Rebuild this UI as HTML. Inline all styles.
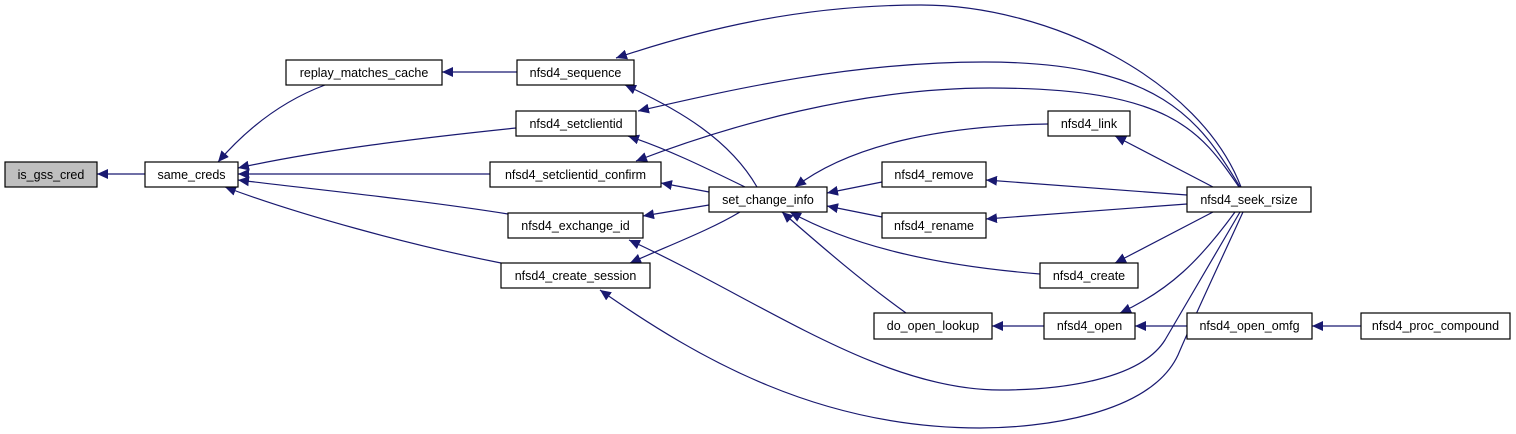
<!DOCTYPE html>
<html><head><meta charset="utf-8"><style>
html,body{margin:0;padding:0;background:#fff;}
svg{display:block;}
text{font-family:"Liberation Sans",sans-serif;font-size:12.5px;fill:#000;}
.e{fill:none;stroke:#191970;stroke-width:1.2;marker-end:url(#a);}
.n{fill:#fff;stroke:#000;stroke-width:1.2;}
</style></head><body>
<svg width="1516" height="434" viewBox="0 0 1516 434" xmlns="http://www.w3.org/2000/svg">
<defs><marker id="a" markerUnits="userSpaceOnUse" markerWidth="12" markerHeight="10" refX="11" refY="5" orient="auto"><path d="M0,0 L11,5 L0,10 Z" fill="#191970"/></marker></defs>
<path class="e" d="M145,174 L97,174"/>
<path class="e" d="M325,85 C285,100 250,125 218,162"/>
<path class="e" d="M516,128 C420,138 320,150 238,168"/>
<path class="e" d="M490,174 L238,174"/>
<path class="e" d="M508,214 C420,200 320,190 238,180"/>
<path class="e" d="M501,263 C410,245 300,215 225,187"/>
<path class="e" d="M517,72 L442,72"/>
<path class="e" d="M757,187 C730,140 680,110 625,85"/>
<path class="e" d="M745,187 C710,170 670,150 628,136"/>
<path class="e" d="M709,192 L661,183"/>
<path class="e" d="M709,205 L643,216"/>
<path class="e" d="M740,212 C710,230 670,245 630,263"/>
<path class="e" d="M1048,124 C940,126 850,145 795,187"/>
<path class="e" d="M882,182 L827,193"/>
<path class="e" d="M882,217 L827,206"/>
<path class="e" d="M1040,274 C930,265 850,245 790,212"/>
<path class="e" d="M906,313 C860,280 820,245 782,212"/>
<path class="e" d="M1044,326 L992,326"/>
<path class="e" d="M1187,326 L1135,326"/>
<path class="e" d="M1361,326 L1312,326"/>
<path class="e" d="M1241,187 C1200,80 1050,5 921,5 C800,5 700,30 616,58"/>
<path class="e" d="M1240,187 C1200,120 1160,62 984,62 C850,62 730,90 638,111"/>
<path class="e" d="M1239,187 C1200,130 1170,88 990,88 C860,88 730,125 636,161"/>
<path class="e" d="M1240,212 C1215,255 1190,298 1165,340 C1140,380 1060,390 1000,390 C880,390 760,300 629,240"/>
<path class="e" d="M1243,212 C1222,258 1195,315 1178,355 C1150,415 1040,428 980,428 C820,428 700,360 600,290"/>
<path class="e" d="M1213,187 L1115,136"/>
<path class="e" d="M1187,195 L986,180"/>
<path class="e" d="M1187,204 L986,219"/>
<path class="e" d="M1213,212 L1115,263"/>
<path class="e" d="M1235,212 C1200,260 1170,290 1120,313"/>
<rect x="5" y="162" width="92" height="25" fill="#bfbfbf" stroke="#000" stroke-width="1.2"/>
<text x="51" y="179" text-anchor="middle">is_gss_cred</text>
<rect class="n" x="145" y="162" width="93" height="25"/><text x="191.5" y="179" text-anchor="middle">same_creds</text>
<rect class="n" x="286" y="60" width="156" height="25"/><text x="364" y="77" text-anchor="middle">replay_matches_cache</text>
<rect class="n" x="517" y="60" width="117" height="25"/><text x="575.5" y="77" text-anchor="middle">nfsd4_sequence</text>
<rect class="n" x="516" y="111" width="120" height="25"/><text x="576" y="128" text-anchor="middle">nfsd4_setclientid</text>
<rect class="n" x="490" y="162" width="171" height="25"/><text x="575.5" y="179" text-anchor="middle">nfsd4_setclientid_confirm</text>
<rect class="n" x="508" y="213" width="135" height="25"/><text x="575.5" y="230" text-anchor="middle">nfsd4_exchange_id</text>
<rect class="n" x="501" y="263" width="149" height="25"/><text x="575.5" y="280" text-anchor="middle">nfsd4_create_session</text>
<rect class="n" x="709" y="187" width="118" height="25"/><text x="768" y="204" text-anchor="middle">set_change_info</text>
<rect class="n" x="1048" y="111" width="82" height="25"/><text x="1089" y="128" text-anchor="middle">nfsd4_link</text>
<rect class="n" x="882" y="162" width="104" height="25"/><text x="934" y="179" text-anchor="middle">nfsd4_remove</text>
<rect class="n" x="882" y="213" width="104" height="25"/><text x="934" y="230" text-anchor="middle">nfsd4_rename</text>
<rect class="n" x="1040" y="263" width="98" height="25"/><text x="1089" y="280" text-anchor="middle">nfsd4_create</text>
<rect class="n" x="874" y="313" width="118" height="26"/><text x="933" y="330" text-anchor="middle">do_open_lookup</text>
<rect class="n" x="1044" y="313" width="91" height="26"/><text x="1089.5" y="330" text-anchor="middle">nfsd4_open</text>
<rect class="n" x="1187" y="187" width="124" height="25"/><text x="1249" y="204" text-anchor="middle">nfsd4_seek_rsize</text>
<rect class="n" x="1187" y="313" width="125" height="26"/><text x="1249.5" y="330" text-anchor="middle">nfsd4_open_omfg</text>
<rect class="n" x="1361" y="313" width="149" height="26"/><text x="1435.5" y="330" text-anchor="middle">nfsd4_proc_compound</text>
</svg>
</body></html>
